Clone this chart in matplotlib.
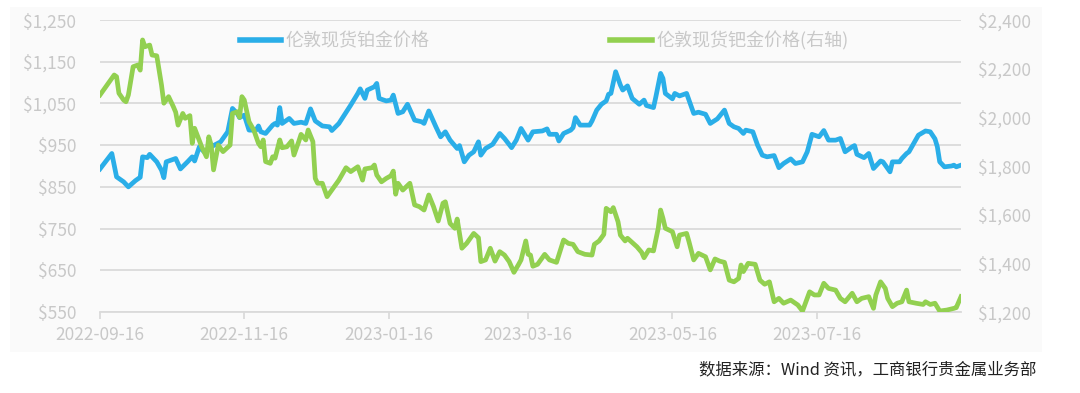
import numpy as np
import pandas as pd
import matplotlib
matplotlib.use("Agg")
import matplotlib.pyplot as plt
import matplotlib.dates as mdates
from matplotlib.patches import Rectangle
from matplotlib.ticker import FuncFormatter

plt.rcParams['font.family'] = ['Noto Sans CJK SC', 'DejaVu Sans']

start = pd.Timestamp("2022-09-16")

# platinum (left axis): days after start, price
pt_day = [0, 5, 7, 10, 12, 15, 17, 18, 20, 21, 24, 26, 27, 28, 32, 34, 37, 39, 40, 42,
          44, 47, 51, 54, 56, 58, 59, 61, 63, 66, 67, 68, 70, 73, 74, 75, 76, 77, 80, 82,
          85, 87, 89, 91, 94, 97, 98, 101, 106, 109, 110, 112, 113, 116, 117, 118, 121, 123, 124, 126,
          128, 130, 133, 136, 137, 139, 142, 144, 146, 148, 151, 152, 154, 156, 158, 160, 161, 163, 166, 169,
          171, 174, 176, 178, 181, 183, 187, 189, 190, 193, 194, 196, 199, 200, 201, 203, 207, 208, 210, 212,
          214, 215, 216, 218, 220, 221, 223, 225, 228, 230, 231, 234, 235, 237, 238, 239, 242, 243, 245, 248,
          251, 253, 256, 258, 261, 264, 266, 268, 270, 272, 273, 276, 278, 280, 282, 285, 287, 289, 292, 294,
          297, 299, 301, 304, 306, 308, 311, 313, 315, 318, 319, 320, 323, 325, 327, 330, 331, 334, 335, 338,
          339, 341, 342, 344, 346, 349, 351, 353, 354, 355, 357, 360, 361, 362, 364]
pt_price = [893, 930, 874, 862, 850, 865, 873, 922, 920, 928, 910, 890, 872, 910, 918, 893, 910, 922, 912, 946,
            934, 946, 958, 982, 1038, 1026, 1016, 1022, 986, 986, 996, 982, 978, 998, 1002, 998, 1040, 1002, 1014, 1002,
            1005, 1002, 1037, 1008, 996, 994, 985, 1002, 1046, 1074, 1085, 1062, 1082, 1090, 1098, 1062, 1056, 1058, 1070, 1026,
            1030, 1048, 1010, 1006, 1002, 1032, 994, 970, 982, 962, 942, 949, 910, 926, 934, 958, 926, 942, 952, 978,
            966, 944, 962, 990, 962, 982, 984, 989, 976, 976, 960, 978, 986, 992, 1016, 998, 998, 1008, 1034, 1048,
            1056, 1072, 1074, 1126, 1094, 1082, 1092, 1062, 1048, 1058, 1045, 1040, 1066, 1122, 1110, 1074, 1061, 1074, 1068, 1074,
            1026, 1029, 1024, 1002, 1013, 1034, 1002, 994, 990, 978, 986, 982, 950, 926, 922, 925, 896, 906, 917, 906,
            910, 934, 976, 970, 985, 962, 962, 966, 934, 946, 949, 928, 920, 930, 894, 912, 910, 886, 910, 910,
            918, 930, 934, 954, 974, 984, 982, 965, 946, 910, 898, 900, 902, 898, 902]

# palladium (right axis)
pd_day = [0, 3, 6, 7, 8, 10, 11, 12, 14, 16, 17, 18, 19, 21, 22, 24, 26, 27, 29, 31,
          32, 33, 35, 36, 38, 39, 40, 43, 45, 46, 47, 48, 50, 52, 55, 56, 58, 59, 60, 61,
          63, 65, 67, 68, 69, 70, 72, 73, 74, 76, 77, 79, 81, 82, 84, 85, 87, 88, 90, 91,
          92, 94, 96, 98, 101, 104, 106, 109, 111, 112, 115, 116, 117, 119, 121, 123, 124, 125, 126, 128,
          131, 133, 135, 137, 139, 141, 143, 145, 146, 148, 150, 151, 153, 155, 158, 160, 161, 163, 165, 167,
          169, 171, 173, 175, 177, 178, 180, 181, 182, 183, 185, 188, 190, 193, 196, 198, 200, 202, 205, 208,
          209, 211, 213, 214, 216, 217, 219, 220, 222, 223, 227, 229, 230, 232, 234, 236, 237, 238, 239, 242,
          244, 245, 248, 249, 251, 253, 256, 258, 260, 262, 264, 266, 268, 270, 271, 272, 274, 277, 279, 281,
          283, 285, 287, 289, 292, 295, 297, 300, 302, 304, 306, 308, 311, 313, 315, 318, 320, 322, 325, 327,
          328, 330, 332, 333, 335, 337, 339, 341, 342, 345, 348, 349, 351, 353, 355, 358, 361, 362, 364]
pd_price = [2092, 2133, 2174, 2167, 2099, 2071, 2064, 2092, 2208, 2215, 2194, 2318, 2290, 2297, 2256, 2253, 2133, 2058, 2085, 2044,
            2021, 1968, 2016, 1996, 2007, 1893, 1955, 1879, 1838, 1920, 1886, 1784, 1886, 1859, 1886, 2016, 2023, 2000, 2085, 2071,
            1982, 1948, 1893, 1879, 1907, 1818, 1811, 1838, 1832, 1907, 1875, 1879, 1903, 1845, 1900, 1930, 1907, 1948, 1900, 1749,
            1729, 1729, 1674, 1701, 1742, 1793, 1777, 1797, 1742, 1788, 1793, 1804, 1763, 1735, 1749, 1760, 1779, 1684, 1729, 1701,
            1729, 1640, 1633, 1619, 1681, 1633, 1574, 1647, 1653, 1564, 1544, 1582, 1462, 1482, 1523, 1505, 1407, 1414, 1462, 1409,
            1448, 1434, 1407, 1363, 1396, 1414, 1492, 1437, 1434, 1388, 1396, 1437, 1414, 1404, 1496, 1482, 1478, 1448, 1437, 1434,
            1478, 1492, 1519, 1626, 1612, 1629, 1571, 1516, 1492, 1503, 1468, 1445, 1423, 1455, 1451, 1544, 1619, 1585, 1544, 1530,
            1468, 1516, 1523, 1489, 1414, 1441, 1427, 1373, 1418, 1409, 1404, 1331, 1324, 1338, 1393, 1366, 1400, 1396, 1331, 1314,
            1324, 1242, 1256, 1236, 1249, 1229, 1204, 1283, 1270, 1270, 1318, 1297, 1290, 1256, 1242, 1277, 1242, 1256, 1263, 1215,
            1270, 1324, 1297, 1256, 1222, 1236, 1242, 1290, 1242, 1236, 1231, 1242, 1231, 1236, 1204, 1208, 1215, 1218, 1263]

tick_dates = ["2022-09-16", "2022-11-16", "2023-01-16", "2023-03-16", "2023-05-16", "2023-07-16"]
left_ticks = [550, 650, 750, 850, 950, 1050, 1150, 1250]
right_ticks = [1200, 1400, 1600, 1800, 2000, 2200, 2400]

pt_name = "伦敦现货铂金价格"
pd_name = "伦敦现货钯金价格(右轴)"
source = "数据来源：Wind 资讯，工商银行贵金属业务部"

blue = "#2aaee8"
green = "#92d050"
grey_txt = "#c8c8c8"
grid_c = "#dadada"

pt_x = start + pd.to_timedelta(pt_day, unit="D")
pd_x = start + pd.to_timedelta(pd_day, unit="D")

fig = plt.figure(figsize=(10.8, 3.93), dpi=100)
fig.patches.append(Rectangle((10 / 1080, 1 - 352 / 393), 1032 / 1080, 345 / 393,
                             transform=fig.transFigure, facecolor="#fafafa",
                             edgecolor="none", zorder=-10))

ax = fig.add_axes([100 / 1080, 1 - 312 / 393, 861 / 1080, 292 / 393])
ax.set_facecolor("none")
ax2 = ax.twinx()

l1, = ax.plot(pt_x, pt_price, color=blue, lw=3.4, solid_joinstyle="round", label=pt_name, zorder=3)
l2, = ax2.plot(pd_x, pd_price, color=green, lw=3.4, solid_joinstyle="round", label=pd_name, zorder=3)

ax.set_xlim(start, start + pd.Timedelta(days=364))
ax.set_ylim(550, 1250)
ax2.set_ylim(1200, 2400)
ax.set_yticks(left_ticks)
ax2.set_yticks(right_ticks)
money = FuncFormatter(lambda v, p: "${:,.0f}".format(v))
ax.yaxis.set_major_formatter(money)
ax2.yaxis.set_major_formatter(money)

ax.set_xticks(pd.to_datetime(tick_dates))
ax.xaxis.set_major_formatter(mdates.DateFormatter("%Y-%m-%d"))

ax.grid(axis="y", color=grid_c, lw=1.3)
ax.set_axisbelow(True)
for a in (ax, ax2):
    for s in a.spines.values():
        s.set_visible(False)
ax.spines["bottom"].set_visible(True)
ax.spines["bottom"].set_color(grid_c)
ax.spines["bottom"].set_linewidth(1.3)

ax.tick_params(axis="x", colors=grid_c, length=5, width=1.3, labelcolor=grey_txt,
               labelsize=12.5, pad=5)
ax.tick_params(axis="y", length=0, labelcolor=grey_txt, labelsize=12.5, pad=17)
ax2.tick_params(axis="y", length=0, labelcolor=grey_txt, labelsize=12.5, pad=12)
for lab in ax.get_xticklabels() + ax.get_yticklabels() + ax2.get_yticklabels():
    lab.set_fontweight("light")

leg = ax.legend([l1, l2], [pt_name, pd_name], loc="center", bbox_to_anchor=(0.516, 0.93),
                ncol=2, frameon=False, fontsize=13, handlelength=2.3, handletextpad=0.25,
                columnspacing=10.0)
for t in leg.get_texts():
    t.set_color(grey_txt)
    t.set_fontweight("light")
for h in leg.get_lines():
    h.set_linewidth(4)

fig.text(1036 / 1080, 1 - 370 / 393, source, ha="right", va="center",
         fontsize=11.8, color="#222222")

fig.savefig("out.png", dpi=100, facecolor="white")
